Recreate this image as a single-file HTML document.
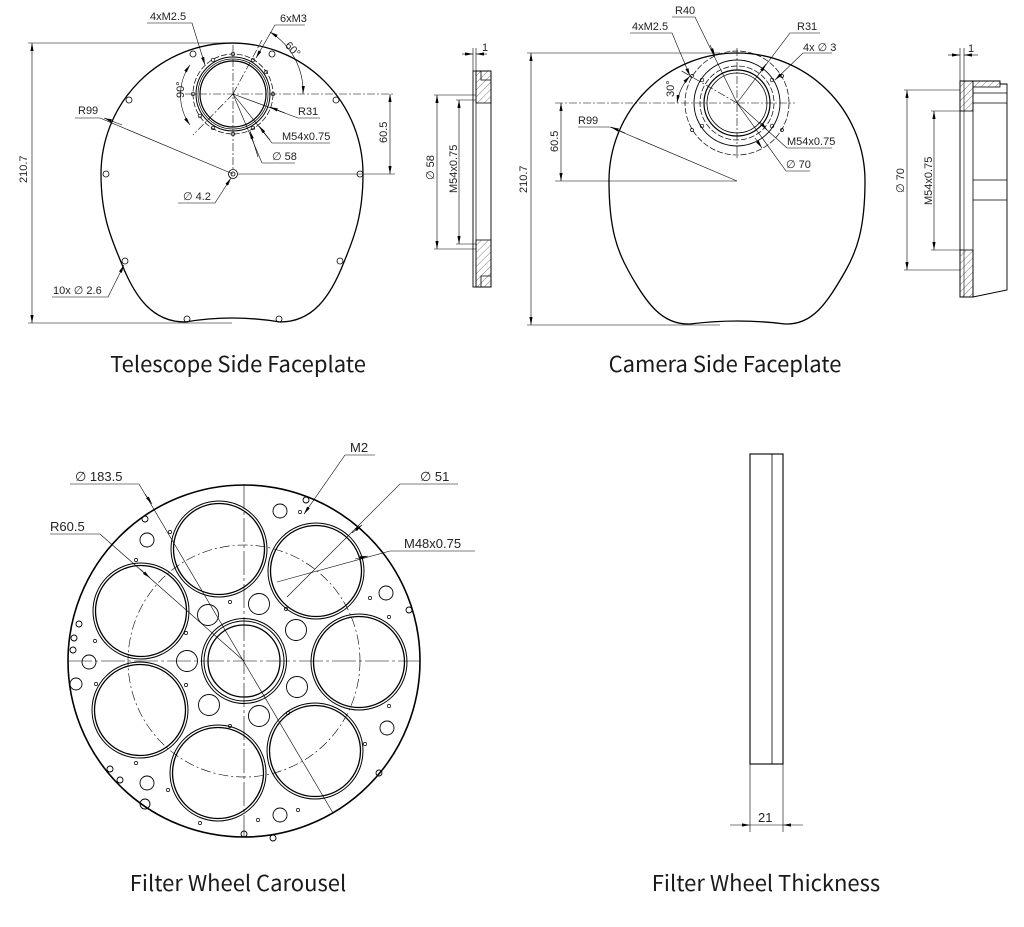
<!DOCTYPE html>
<html><head><meta charset="utf-8"><style>
html,body{margin:0;padding:0;background:#fff;}
svg{display:block;}
.c{font-family:"Noto Sans CJK SC","Liberation Sans",sans-serif;font-size:22px;fill:#1a1a1a;}
.t{font-family:"Liberation Sans",sans-serif;font-size:11px;fill:#222;}
</style></head><body>
<svg width="1024" height="927" viewBox="0 0 1024 927" xmlns="http://www.w3.org/2000/svg">
<defs>
<marker id="a" viewBox="0 0 10 4" refX="10" refY="2" markerWidth="8" markerHeight="3.2" orient="auto-start-reverse" markerUnits="userSpaceOnUse"><path d="M0,0L10,2L0,4z" fill="#000"/></marker>
<pattern id="h" width="5" height="5" patternUnits="userSpaceOnUse" patternTransform="rotate(45)"><line x1="0" y1="0" x2="0" y2="5" stroke="#444" stroke-width="0.7"/></pattern>
</defs>
<g fill="none" stroke="#000" stroke-width="1">
<!-- Telescope plate -->
<path d="M101,174 A131,131 0 0 1 363,174 C363,215 354,238 344,262 C330,298 312,322 280,322 Q232,314 185,322 C153,322 135,298 121,262 C111,238 101,215 101,174 Z" stroke-width="1.3"/>
<g stroke-width="0.8">
<circle cx="193" cy="54" r="3"/><circle cx="272" cy="54" r="3"/><circle cx="129" cy="100" r="3"/><circle cx="336" cy="100" r="3"/>
<circle cx="106" cy="174" r="3"/><circle cx="360" cy="174" r="3"/><circle cx="125" cy="261" r="3"/><circle cx="340" cy="261" r="3"/>
<circle cx="187" cy="319" r="3"/><circle cx="279" cy="319" r="3"/>
<circle cx="233" cy="174" r="4.5"/><circle cx="233" cy="174" r="2"/>
</g>
<circle cx="233" cy="94" r="40" stroke-width="0.7" stroke-dasharray="6,2"/>
<circle cx="233" cy="94" r="37"/><circle cx="233" cy="94" r="35" stroke-width="0.7"/><circle cx="233" cy="94" r="33" stroke-width="1.2"/>
<g stroke-width="0.7"><circle cx="233" cy="54" r="1.8"/><circle cx="273" cy="94" r="1.8"/><circle cx="193" cy="94" r="1.8"/><circle cx="233" cy="134" r="1.8"/>
<circle cx="213" cy="60" r="1.8"/><circle cx="253" cy="60" r="1.8"/><circle cx="213" cy="128" r="1.8"/><circle cx="253" cy="128" r="1.8"/><circle cx="266" cy="72" r="1.8"/><circle cx="200" cy="116" r="1.8"/></g>
<g stroke-width="0.6">
<line x1="185" y1="94" x2="395" y2="94" stroke-dasharray="8,2,2,2"/>
<line x1="233" y1="45" x2="233" y2="170" stroke-dasharray="8,2,2,2"/>
<line x1="233" y1="94" x2="193" y2="135" stroke-dasharray="8,2,2,2"/>
<line x1="233" y1="94" x2="262" y2="40" stroke-dasharray="8,2,2,2"/>
<line x1="238" y1="174" x2="395" y2="174"/>
<path d="M190,65 A52,52 0 0 0 190,125" marker-start="url(#a)" marker-end="url(#a)"/>
<path d="M270,32 A70,70 0 0 1 303,94" marker-start="url(#a)" marker-end="url(#a)"/>
<line x1="390" y1="94" x2="390" y2="174" marker-start="url(#a)" marker-end="url(#a)"/>
<line x1="28" y1="43" x2="232" y2="43"/><line x1="28" y1="323" x2="232" y2="323"/>
<line x1="32" y1="43" x2="32" y2="323" marker-start="url(#a)" marker-end="url(#a)"/>
<polyline points="75,118 100,118 233,174" /><line x1="122" y1="125" x2="104" y2="118" marker-end="url(#a)"/>
<polyline points="147,23 192,23 205,65" marker-end="url(#a)"/>
<polyline points="305,25 275,25 256,58" marker-end="url(#a)"/>
<polyline points="320,118 298,118 233,94"/><line x1="285" y1="113" x2="270" y2="107" marker-end="url(#a)"/>
<polyline points="330,143 272,143 233,94"/><line x1="270" y1="140" x2="259" y2="126" marker-end="url(#a)"/>
<polyline points="295,163 262,163 233,94"/><line x1="258" y1="157" x2="250" y2="131" marker-end="url(#a)"/>
<polyline points="178,203 215,203 231,178" marker-end="url(#a)"/>
<polyline points="52,297 108,297 124,265" marker-end="url(#a)"/>
</g>
<!-- Telescope side view -->
<rect x="473" y="71" width="18" height="216" stroke-width="0.9"/>
<line x1="476" y1="71" x2="476" y2="287" stroke-width="0.7"/>
<rect x="476" y="71" width="15" height="32" fill="url(#h)" stroke-width="0.8"/>
<rect x="476" y="240" width="15" height="47" fill="url(#h)" stroke-width="0.8"/>
<path d="M481,71 L481,80 L491,80" stroke-width="0.8"/><path d="M481,287 L481,276 L491,276" stroke-width="0.8"/>
<g stroke-width="0.6">
<line x1="434" y1="95" x2="476" y2="95"/><line x1="434" y1="249" x2="476" y2="249"/>
<line x1="437" y1="95" x2="437" y2="249" marker-start="url(#a)" marker-end="url(#a)"/>
<line x1="456" y1="100" x2="476" y2="100"/><line x1="456" y1="244" x2="476" y2="244"/>
<line x1="459" y1="100" x2="459" y2="244" marker-start="url(#a)" marker-end="url(#a)"/>
<line x1="473" y1="48" x2="473" y2="71"/><line x1="476" y1="48" x2="476" y2="71"/>
<line x1="462" y1="54" x2="473" y2="54" marker-end="url(#a)"/><line x1="487" y1="54" x2="476" y2="54" marker-end="url(#a)"/>
</g>
<!-- Camera plate -->
<path d="M609,181 A128,128 0 0 1 865,181 C865,230 856,252 846,270 C826,305 812,325 785,324 Q738,318 690,324 C663,325 647,305 628,270 C618,252 609,230 609,181 Z" stroke-width="1.3"/>
<circle cx="737" cy="103" r="52" stroke-width="0.7" stroke-dasharray="6,2"/>
<circle cx="737" cy="103" r="43" stroke-width="0.9"/>
<circle cx="737" cy="103" r="37" stroke-width="0.7" stroke-dasharray="6,2"/>
<circle cx="737" cy="103" r="33" stroke-width="1.2"/><circle cx="737" cy="103" r="30" stroke-width="0.8"/>
<g stroke-width="0.7"><circle cx="702" cy="80" r="1.8"/><circle cx="772" cy="80" r="1.8"/><circle cx="702" cy="126" r="1.8"/><circle cx="772" cy="126" r="1.8"/>
<circle cx="692" cy="76" r="1.5"/><circle cx="782" cy="76" r="1.5"/><circle cx="692" cy="130" r="1.5"/><circle cx="782" cy="130" r="1.5"/></g>
<g stroke-width="0.6">
<line x1="555" y1="103" x2="795" y2="103" stroke-dasharray="8,2,2,2"/>
<line x1="737" y1="48" x2="737" y2="158" stroke-dasharray="8,2,2,2"/>
<line x1="737" y1="103" x2="680" y2="70" stroke-dasharray="8,2,2,2"/>
<line x1="555" y1="181" x2="737" y2="181"/>
<line x1="561" y1="103" x2="561" y2="181" marker-start="url(#a)" marker-end="url(#a)"/>
<line x1="527" y1="53" x2="720" y2="53"/><line x1="527" y1="325" x2="720" y2="325"/>
<line x1="531" y1="53" x2="531" y2="325" marker-start="url(#a)" marker-end="url(#a)"/>
<path d="M690,76 A52,52 0 0 0 677,103" marker-start="url(#a)" marker-end="url(#a)"/>
<polyline points="578,127 610,127 737,181"/><line x1="625" y1="133" x2="611" y2="127" marker-end="url(#a)"/>
<polyline points="672,17 695,17 737,103"/><line x1="710" y1="45" x2="715" y2="56" marker-end="url(#a)"/>
<polyline points="630,33 672,33 690,76" marker-end="url(#a)"/>
<polyline points="820,33 790,33 737,103"/><line x1="760" y1="73" x2="766" y2="64" marker-end="url(#a)"/>
<polyline points="832,53 803,53 775,80" marker-end="url(#a)"/>
<polyline points="832,148 787,148 737,103"/><line x1="760" y1="122" x2="767" y2="130" marker-end="url(#a)"/>
<polyline points="810,171 786,171 737,103"/><line x1="755" y1="138" x2="762" y2="148" marker-end="url(#a)"/>
</g>
<!-- Camera side view -->
<path d="M960,81 L1000,81 L1000,84 L1007,84 L1007,290 L973,297 L960,297 Z" stroke-width="0.9"/>
<rect x="960" y="81" width="13" height="30" fill="url(#h)" stroke-width="0.8"/>
<rect x="960" y="250" width="13" height="47" fill="url(#h)" stroke-width="0.8"/>
<rect x="973" y="81" width="27" height="6" fill="url(#h)" stroke-width="0.8"/>
<line x1="973" y1="87" x2="973" y2="297" stroke-width="0.8"/>
<line x1="964" y1="81" x2="964" y2="297" stroke-width="0.6"/>
<g stroke-width="0.7"><line x1="973" y1="93" x2="1007" y2="93"/><line x1="973" y1="103" x2="1007" y2="103"/><line x1="973" y1="180" x2="1007" y2="180"/><line x1="973" y1="200" x2="1007" y2="200"/></g>
<g stroke-width="0.6">
<line x1="904" y1="90" x2="960" y2="90"/><line x1="904" y1="270" x2="960" y2="270"/>
<line x1="907" y1="90" x2="907" y2="270" marker-start="url(#a)" marker-end="url(#a)"/>
<line x1="931" y1="111" x2="964" y2="111"/><line x1="931" y1="250" x2="964" y2="250"/>
<line x1="934" y1="111" x2="934" y2="250" marker-start="url(#a)" marker-end="url(#a)"/>
<line x1="960" y1="48" x2="960" y2="81"/><line x1="964" y1="48" x2="964" y2="81"/>
<line x1="948" y1="55" x2="960" y2="55" marker-end="url(#a)"/><line x1="978" y1="55" x2="964" y2="55" marker-end="url(#a)"/>
</g>
<!-- Carousel -->
<circle cx="244" cy="661" r="176" stroke-width="1.6"/>
<circle cx="244" cy="661" r="116" stroke-width="0.6" stroke-dasharray="10,3,2,3"/>
<g stroke-width="1">
<circle cx="219" cy="549" r="48"/><circle cx="219" cy="549" r="45.5" stroke-width="1.3"/>
<circle cx="316" cy="571" r="48"/><circle cx="316" cy="571" r="45.5" stroke-width="1.3"/>
<circle cx="359" cy="662" r="48"/><circle cx="359" cy="662" r="45.5" stroke-width="1.3"/>
<circle cx="315" cy="751" r="48"/><circle cx="315" cy="751" r="45.5" stroke-width="1.3"/>
<circle cx="218" cy="773" r="48"/><circle cx="218" cy="773" r="45.5" stroke-width="1.3"/>
<circle cx="140" cy="710" r="48"/><circle cx="140" cy="710" r="45.5" stroke-width="1.3"/>
<circle cx="141" cy="611" r="48"/><circle cx="141" cy="611" r="45.5" stroke-width="1.3"/>
<circle cx="244" cy="661" r="42.5"/><circle cx="244" cy="661" r="40"/><circle cx="244" cy="661" r="36" stroke-width="1.3"/>
</g>
<g stroke-width="0.9">
<circle cx="259" cy="604" r="10.5"/><circle cx="296" cy="630" r="10.5"/><circle cx="297" cy="687" r="10.5"/><circle cx="259" cy="716" r="10.5"/>
<circle cx="209" cy="705" r="10.5"/><circle cx="187" cy="661" r="10.5"/><circle cx="208" cy="615" r="10.5"/>
<circle cx="280" cy="511" r="7"/><circle cx="386" cy="593" r="7"/><circle cx="387" cy="728" r="7"/><circle cx="280" cy="815" r="7"/>
<circle cx="147" cy="783" r="7"/><circle cx="89" cy="662" r="7"/><circle cx="147" cy="540" r="7"/><circle cx="76" cy="684" r="6"/><circle cx="145" cy="804" r="5"/>
<circle cx="306" cy="500" r="3"/><circle cx="145" cy="519" r="3"/><circle cx="409" cy="610" r="3"/><circle cx="79" cy="624" r="3"/><circle cx="74" cy="638" r="3"/><circle cx="73" cy="650" r="3"/><circle cx="379" cy="773" r="3"/><circle cx="110" cy="769" r="3"/><circle cx="120" cy="780" r="3"/><circle cx="244" cy="834" r="3"/><circle cx="273" cy="838" r="3"/>
</g>
<g stroke-width="0.7">
<circle cx="300" cy="512" r="1.6"/><circle cx="370" cy="598" r="1.6"/><circle cx="389" cy="617" r="1.6"/><circle cx="389" cy="706" r="1.6"/><circle cx="288" cy="713" r="1.6"/>
<circle cx="230" cy="602" r="1.6"/><circle cx="170" cy="532" r="1.6"/><circle cx="136" cy="560" r="1.6"/><circle cx="186" cy="633" r="1.6"/><circle cx="95" cy="641" r="1.6"/>
<circle cx="96" cy="684" r="1.6"/><circle cx="186" cy="685" r="1.6"/><circle cx="136" cy="763" r="1.6"/><circle cx="230" cy="726" r="1.6"/><circle cx="168" cy="790" r="1.6"/>
<circle cx="258" cy="820" r="1.6"/><circle cx="298" cy="810" r="1.6"/><circle cx="365" cy="744" r="1.6"/><circle cx="286" cy="609" r="1.6"/><circle cx="200" cy="823" r="1.6"/>
</g>
<g stroke-width="0.6">
<line x1="68" y1="661" x2="420" y2="661" stroke-dasharray="24,3,3,3"/>
<line x1="244" y1="485" x2="244" y2="837" stroke-dasharray="24,3,3,3"/>
<polyline points="70,484 139,484 333,813"/><line x1="145" y1="494" x2="152" y2="504" marker-end="url(#a)"/>
<polyline points="50,534 100,534 244,661"/><line x1="140" y1="569" x2="150" y2="578" marker-end="url(#a)"/>
<polyline points="375,455 345,455 304,514" marker-end="url(#a)"/>
<polyline points="458,484 400,484 287,597"/><line x1="352" y1="533" x2="362" y2="525" marker-end="url(#a)"/>
<polyline points="475,551 390,551 277,582"/><line x1="355" y1="559" x2="368" y2="556" marker-end="url(#a)"/>
</g>
<!-- Thickness -->
<rect x="750" y="454" width="33" height="310" stroke-width="1.1"/>
<line x1="772" y1="454" x2="772" y2="764" stroke-width="0.8"/>
<g stroke-width="0.6">
<line x1="750" y1="764" x2="750" y2="832"/><line x1="783" y1="764" x2="783" y2="832"/>
<line x1="730" y1="825" x2="750" y2="825" marker-end="url(#a)"/><line x1="803" y1="825" x2="783" y2="825" marker-end="url(#a)"/>
<line x1="750" y1="825" x2="783" y2="825"/>
</g>
</g>
<!-- labels -->
<g class="t">
<text x="150" y="20">4xM2.5</text><text x="280" y="22">6xM3</text>
<text x="286" y="50" transform="rotate(45 290 46)">60°</text>
<text x="180" y="102" transform="rotate(-90 180 98)">90°</text>
<text x="78" y="114">R99</text><text x="298" y="115">R31</text><text x="282" y="140">M54x0.75</text>
<text x="272" y="160">∅ 58</text><text x="183" y="200">∅ 4.2</text><text x="53" y="294">10x ∅ 2.6</text>
<text x="27" y="183" transform="rotate(-90 27 183)">210.7</text>
<text x="387" y="143" transform="rotate(-90 387 143)">60.5</text>
<text x="434" y="180" transform="rotate(-90 434 180)">∅ 58</text>
<text x="457" y="193" transform="rotate(-90 457 193)">M54x0.75</text>
<text x="482" y="51">1</text>
<text x="675" y="14">R40</text><text x="632" y="30">4xM2.5</text><text x="797" y="30">R31</text><text x="803" y="51">4x ∅ 3</text>
<text x="674" y="97" transform="rotate(-90 674 97)">30°</text>
<text x="578" y="124">R99</text><text x="787" y="145">M54x0.75</text><text x="786" y="168">∅ 70</text>
<text x="527" y="193" transform="rotate(-90 527 193)">210.7</text>
<text x="558" y="152" transform="rotate(-90 558 152)">60.5</text>
<text x="904" y="193" transform="rotate(-90 904 193)">∅ 70</text>
<text x="932" y="205" transform="rotate(-90 932 205)">M54x0.75</text>
<text x="968" y="52">1</text>
<text x="75" y="481" font-size="13">∅ 183.5</text><text x="350" y="452" font-size="13">M2</text>
<text x="420" y="481" font-size="13">∅ 51</text><text x="404" y="548" font-size="13">M48x0.75</text>
<text x="50" y="531" font-size="13">R60.5</text>
<text x="758" y="822" font-size="13">21</text>
</g>
<g class="c" text-anchor="middle">
<text x="238" y="372">Telescope Side Faceplate</text>
<text x="725" y="372">Camera Side Faceplate</text>
<text x="238" y="891">Filter Wheel Carousel</text>
<text x="766" y="891">Filter Wheel Thickness</text>
</g>
</svg>
</body></html>
